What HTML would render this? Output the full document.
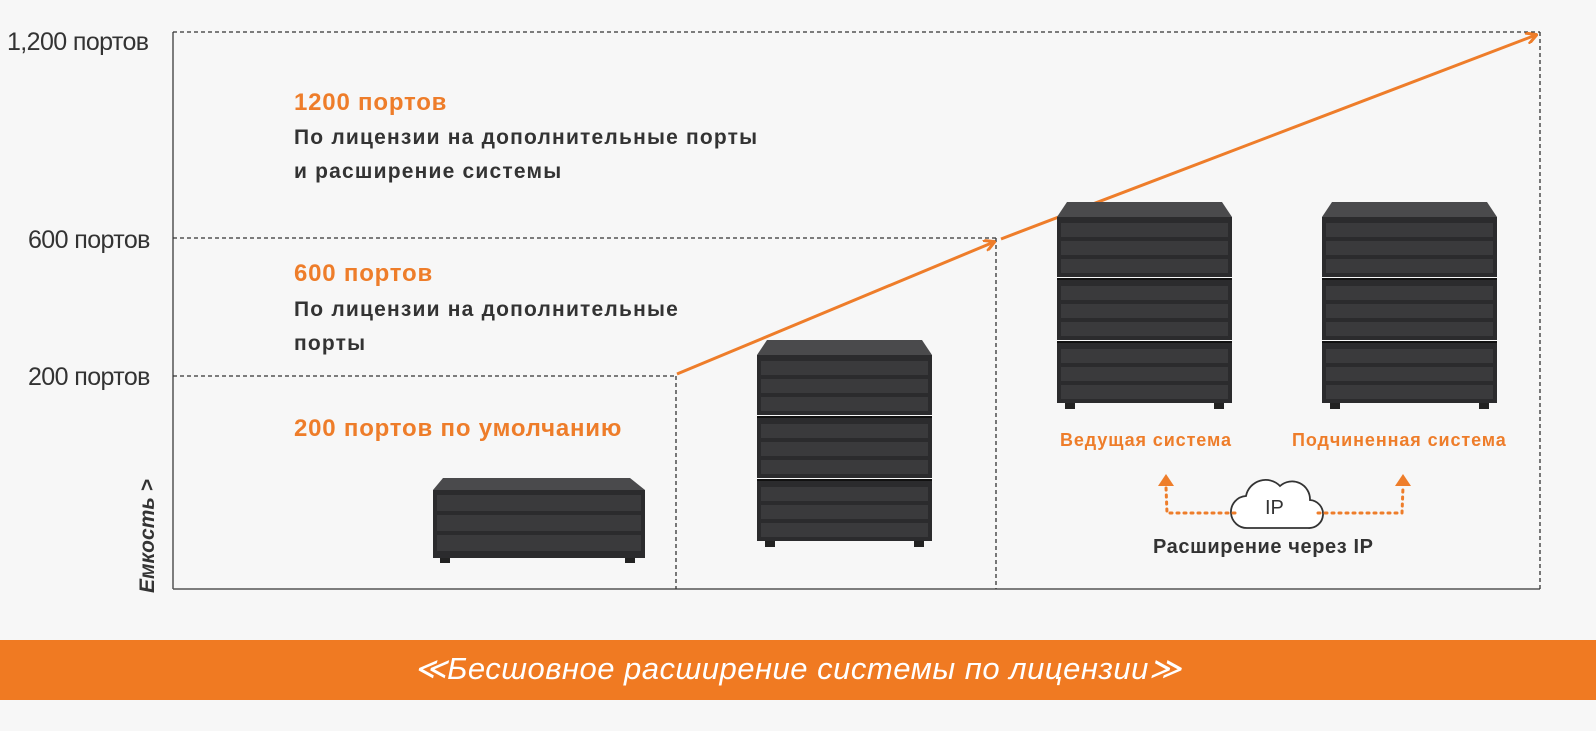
<!DOCTYPE html>
<html><head><meta charset="utf-8"><style>
html,body{margin:0;padding:0;background:#f7f7f7;width:1596px;height:731px;overflow:hidden;font-family:"Liberation Sans",sans-serif}
.t{position:absolute;white-space:nowrap}
.ax{font-size:25px;color:#333;letter-spacing:-0.6px}
.or{color:#ee7d2a;font-weight:bold;font-size:24px;letter-spacing:0.8px}
.dk{color:#333;font-weight:bold;font-size:21px;letter-spacing:1.2px}
</style></head><body>
<svg width="1596" height="731" style="position:absolute;left:0;top:0">
<defs>
<marker id="ah" markerWidth="12" markerHeight="12" refX="10" refY="6" orient="auto" markerUnits="userSpaceOnUse"><path d="M0,0 L11,6 L0,12" fill="none" stroke="#ee7d2a" stroke-width="3"/></marker>
<g id="unit">
<polygon points="0,0 175,0 175,60 0,60" fill="#2b2b2d"/>
<rect x="4" y="6" width="167" height="14" fill="#3a3a3c"/>
<rect x="4" y="24" width="167" height="14" fill="#3a3a3c"/>
<rect x="4" y="42" width="167" height="14" fill="#3a3a3c"/>
</g>
<g id="stack">
<polygon points="10,0 165,0 175,15 0,15" fill="#4a4a4c"/>
<use href="#unit" y="15"/>
<rect x="0" y="76" width="175" height="2" fill="#111"/>
<use href="#unit" y="78"/>
<rect x="0" y="139" width="175" height="2" fill="#111"/>
<use href="#unit" y="141"/>
<rect x="8" y="201" width="10" height="6" fill="#222"/><rect x="157" y="201" width="10" height="6" fill="#222"/>
</g>
</defs>
<line x1="173" y1="32" x2="173" y2="589" stroke="#555" stroke-width="1.5"/>
<line x1="173" y1="589" x2="1540" y2="589" stroke="#555" stroke-width="1.5"/>
<g stroke="#333" stroke-width="1.3" stroke-dasharray="4,3" fill="none">
<line x1="173" y1="32" x2="1540" y2="32"/><line x1="1540" y1="32" x2="1540" y2="589"/>
<line x1="173" y1="238" x2="996" y2="238"/><line x1="996" y1="238" x2="996" y2="589"/>
<line x1="173" y1="376" x2="676" y2="376"/><line x1="676" y1="376" x2="676" y2="589"/>
</g>
<line x1="677" y1="374" x2="994" y2="242" stroke="#ee7d2a" stroke-width="3" marker-end="url(#ah)"/>
<line x1="1001" y1="239" x2="1536" y2="35" stroke="#ee7d2a" stroke-width="3" marker-end="url(#ah)"/>
<polygon points="443,478 630,478 645,490 433,490" fill="#4a4a4c"/>
<rect x="433" y="490" width="212" height="68" fill="#2b2b2d"/>
<rect x="437" y="495" width="204" height="16" fill="#3a3a3c"/><rect x="437" y="515" width="204" height="16" fill="#3a3a3c"/><rect x="437" y="535" width="204" height="16" fill="#3a3a3c"/>
<rect x="440" y="558" width="10" height="5" fill="#222"/><rect x="625" y="558" width="10" height="5" fill="#222"/>
<use href="#stack" x="757" y="340"/>
<use href="#stack" x="1057" y="202"/>
<use href="#stack" x="1322" y="202"/>
<path d="M1248,528 h60 a14,14 0 0 0 2,-28 a18,18 0 0 0 -30,-14 a20,20 0 0 0 -34,10 a16,16 0 0 0 2,32 z" fill="#fff" stroke="#333" stroke-width="1.8"/>
<g stroke="#ee7d2a" stroke-width="3" stroke-dasharray="2,5" fill="none" stroke-linecap="round">
<polyline points="1235,513 1167,513 1166,487"/>
<polyline points="1318,513 1402,513 1403,487"/>
</g>
<polygon points="1158,486 1174,486 1166,474" fill="#ee7d2a"/>
<polygon points="1395,486 1411,486 1403,474" fill="#ee7d2a"/>
<rect x="0" y="640" width="1596" height="60" fill="#f07a22"/>
</svg>
<div class="t ax" style="left:7px;top:28px">1,200 портов</div>
<div class="t ax" style="left:28px;top:226px">600 портов</div>
<div class="t ax" style="left:28px;top:363px">200 портов</div>
<div class="t" style="left:136px;top:593px;transform:rotate(-90deg);transform-origin:0 0;font-size:21px;font-weight:bold;font-style:italic;color:#333">Емкость &gt;</div>
<div class="t or" style="left:294px;top:89px">1200 портов</div>
<div class="t dk" style="left:294px;top:126px">По лицензии на дополнительные порты</div>
<div class="t dk" style="left:294px;top:160px">и расширение системы</div>
<div class="t or" style="left:294px;top:260px">600 портов</div>
<div class="t dk" style="left:294px;top:298px">По лицензии на дополнительные</div>
<div class="t dk" style="left:294px;top:332px">порты</div>
<div class="t or" style="left:294px;top:415px">200 портов по умолчанию</div>
<div class="t" style="left:1060px;top:430px;color:#ee7d2a;font-weight:bold;font-size:18px;letter-spacing:0.9px">Ведущая система</div>
<div class="t" style="left:1292px;top:430px;color:#ee7d2a;font-weight:bold;font-size:18px;letter-spacing:0.9px">Подчиненная система</div>
<div class="t" style="left:1265px;top:497px;font-size:20px;color:#333">IP</div>
<div class="t" style="left:1153px;top:536px;font-size:20px;font-weight:bold;color:#333;letter-spacing:0.6px">Расширение через IP</div>
<div class="t" style="left:0;width:1596px;text-align:center;top:651px;font-size:31px;font-style:italic;color:#fff;letter-spacing:0.5px">≪Бесшовное расширение системы по лицензии≫</div>
</body></html>
